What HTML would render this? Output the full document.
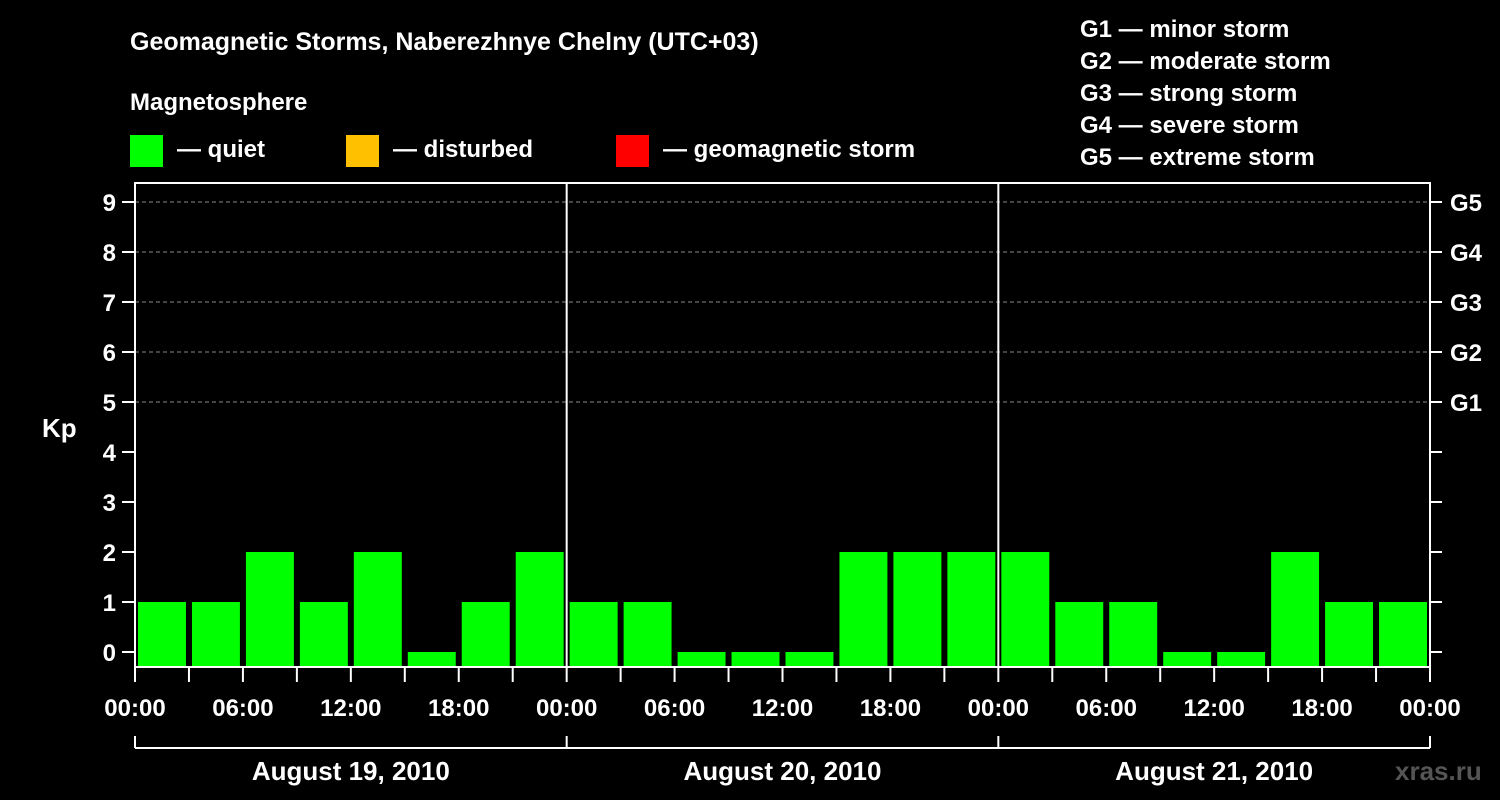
<!DOCTYPE html>
<html><head><meta charset="utf-8"><style>
body{margin:0;background:#000;}
svg{display:block;font-family:"Liberation Sans",Arial,sans-serif;font-weight:bold;}
</style></head><body>
<svg id="c" width="1500" height="800">
<rect width="1500" height="800" fill="#000"/>
<text x="130" y="50" fill="#fff" font-size="25">Geomagnetic Storms, Naberezhnye Chelny (UTC+03)</text>
<text x="130" y="110" fill="#fff" font-size="24">Magnetosphere</text>
<g><rect x="130" y="135" width="33" height="32" fill="#00ff00"/><text x="177" y="157" fill="#fff" font-size="24">— quiet</text></g>
<g><rect x="346" y="135" width="33" height="32" fill="#ffc000"/><text x="393" y="157" fill="#fff" font-size="24">— disturbed</text></g>
<g><rect x="616" y="135" width="33" height="32" fill="#ff0000"/><text x="663" y="157" fill="#fff" font-size="24">— geomagnetic storm</text></g>
<g fill="#fff" font-size="24">
<text x="1080" y="37">G1 — minor storm</text>
<text x="1080" y="69">G2 — moderate storm</text>
<text x="1080" y="101">G3 — strong storm</text>
<text x="1080" y="133">G4 — severe storm</text>
<text x="1080" y="165">G5 — extreme storm</text>
</g>
<text x="42" y="437" fill="#fff" font-size="26">Kp</text>
<text x="1395" y="780" fill="#555" font-size="26">xras.ru</text>
<g id="plot"></g>
</svg>
<script>
const days = ["August 19, 2010","August 20, 2010","August 21, 2010"];
const kpValues = [1,1,2,1,2,0,1,2, 1,1,0,0,0,2,2,2, 2,1,1,0,0,2,1,1];
const timeLabels = ["00:00","06:00","12:00","18:00"];
const gLabels = ["G1","G2","G3","G4","G5"];
const yTicks = [0,1,2,3,4,5,6,7,8,9];
const NS="http://www.w3.org/2000/svg";
const g=document.getElementById('plot');
const X0=135,X1=1430,TOP=183,BOT=667;
const slotW=(X1-X0)/kpValues.length;
const x=i=>X0+i*slotW;
const y=v=>652-50*v;
function mk(t,a,p){const e=document.createElementNS(NS,t);for(const k in a)e.setAttribute(k,a[k]);(p||g).appendChild(e);return e;}
yTicks.forEach(v=>{
  if(v>=5){const l=mk('line',{x1:X0,x2:X1,y1:y(v),y2:y(v),stroke:'#888','stroke-dasharray':'4,3','stroke-width':1});
  
  }
  const t=mk('line',{x1:122,x2:X0,y1:y(v),y2:y(v),stroke:'#fff','stroke-width':2});
  
  
  const t2=mk('line',{x1:X1,x2:1442,y1:y(v),y2:y(v),stroke:'#fff','stroke-width':2});
  
  
  const tx=mk('text',{x:116,y:y(v)+9,fill:'#fff','font-size':24,'text-anchor':'end'});tx.textContent=v;
  
  
});
gLabels.forEach((s,i)=>{const tx=mk('text',{x:1450,y:y(5+i)+9,fill:'#fff','font-size':24});tx.textContent=s;
  
  });
kpValues.forEach((v,i)=>{
  const col=v>=5?'#ff0000':(v>=4?'#ffc000':'#00ff00');
  const r=mk('rect',{x:x(i)+3,y:y(v),width:slotW-6,height:BOT-y(v),fill:col});
  
  
});
const box=mk('rect',{x:X0,y:TOP,width:X1-X0,height:BOT-TOP,fill:'none',stroke:'#fff','stroke-width':2});


for(let d=1;d<days.length;d++){const l=mk('line',{x1:x(d*8),x2:x(d*8),y1:TOP,y2:BOT,stroke:'#fff','stroke-width':2});
  
  }
for(let i=0;i<=kpValues.length;i++){
  const t=mk('line',{x1:x(i),x2:x(i),y1:BOT,y2:BOT+15,stroke:'#fff','stroke-width':2});
  
  
  if(i%2===0){const tx=mk('text',{x:x(i),y:716,fill:'#fff','font-size':24,'text-anchor':'middle'});
    tx.textContent=timeLabels[(i/2)%4];
    
    }
}
const br=mk('line',{x1:X0,x2:X1,y1:748,y2:748,stroke:'#fff','stroke-width':2});


for(let d=0;d<=days.length;d++){const l=mk('line',{x1:x(d*8),x2:x(d*8),y1:736,y2:748,stroke:'#fff','stroke-width':2});
  
  }
days.forEach((s,d)=>{const tx=mk('text',{x:(x(d*8)+x(d*8+8))/2,y:780,fill:'#fff','font-size':26,'text-anchor':'middle'});tx.textContent=s;
  
  });
</script>
</body></html>
